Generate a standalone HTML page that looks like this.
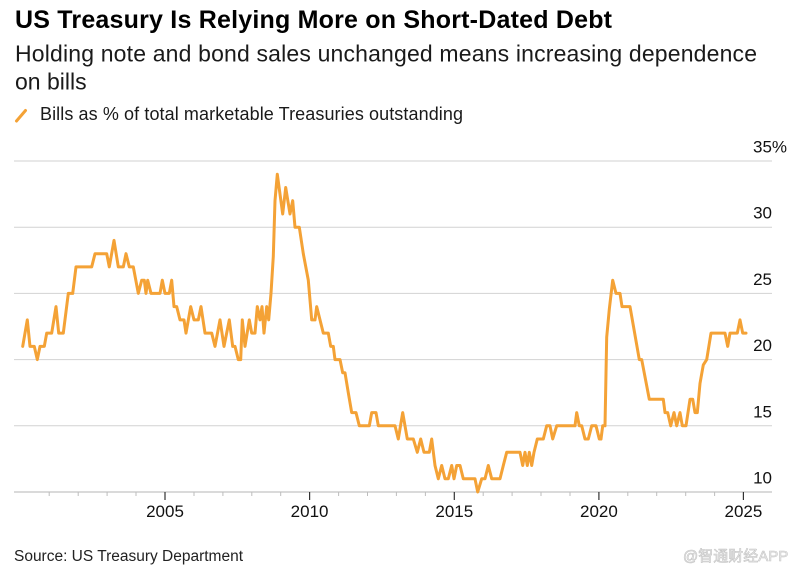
<!DOCTYPE html>
<html>
<head>
<meta charset="utf-8">
<style>
  html, body { margin: 0; padding: 0; background: #fff; }
  body { width: 800px; height: 573px; overflow: hidden; }
  svg { display: block; }
  text { font-family: "Liberation Sans", Arial, sans-serif; }
</style>
</head>
<body>
<svg width="800" height="573" viewBox="0 0 800 573" xmlns="http://www.w3.org/2000/svg">
  <rect x="0" y="0" width="800" height="573" fill="#fff"/>

  <!-- Title -->
  <text x="15" y="28" font-size="25" font-weight="bold" fill="#000" textLength="597">US Treasury Is Relying More on Short-Dated Debt</text>
  <!-- Subtitle -->
  <text x="15" y="61.5" font-size="23" fill="#1a1a1a" textLength="742">Holding note and bond sales unchanged means increasing dependence</text>
  <text x="15" y="89.5" font-size="23" fill="#1a1a1a">on bills</text>

  <!-- Legend -->
  <line x1="16.5" y1="121" x2="25.5" y2="110.5" stroke="#f4a236" stroke-width="3" stroke-linecap="round"/>
  <text x="40" y="120" font-size="18" fill="#1a1a1a" textLength="423">Bills as % of total marketable Treasuries outstanding</text>

  <!-- Gridlines -->
  <g stroke="#d2d2d2" stroke-width="1">
    <line x1="14" y1="161" x2="772" y2="161"/>
    <line x1="14" y1="227.2" x2="772" y2="227.2"/>
    <line x1="14" y1="293.4" x2="772" y2="293.4"/>
    <line x1="14" y1="359.6" x2="772" y2="359.6"/>
    <line x1="14" y1="425.8" x2="772" y2="425.8"/>
  </g>
  <line x1="14" y1="492" x2="772" y2="492" stroke="#c4c4c4" stroke-width="1.2"/>

  <!-- Y labels -->
  <g font-size="17" fill="#111">
    <text x="753" y="152.5">35%</text>
    <text x="772" y="218.7" text-anchor="end">30</text>
    <text x="772" y="284.9" text-anchor="end">25</text>
    <text x="772" y="351.1" text-anchor="end">20</text>
    <text x="772" y="417.3" text-anchor="end">15</text>
    <text x="772" y="483.5" text-anchor="end">10</text>
  </g>

  <!-- Minor ticks -->
  <g stroke="#bdbdbd" stroke-width="1">
    <line x1="49.2" y1="492" x2="49.2" y2="496"/>
    <line x1="78.2" y1="492" x2="78.2" y2="496"/>
    <line x1="107.1" y1="492" x2="107.1" y2="496"/>
    <line x1="136" y1="492" x2="136" y2="496"/>
    <line x1="194" y1="492" x2="194" y2="496"/>
    <line x1="222.9" y1="492" x2="222.9" y2="496"/>
    <line x1="251.8" y1="492" x2="251.8" y2="496"/>
    <line x1="280.7" y1="492" x2="280.7" y2="496"/>
    <line x1="338.6" y1="492" x2="338.6" y2="496"/>
    <line x1="367.5" y1="492" x2="367.5" y2="496"/>
    <line x1="396.4" y1="492" x2="396.4" y2="496"/>
    <line x1="425.4" y1="492" x2="425.4" y2="496"/>
    <line x1="483.2" y1="492" x2="483.2" y2="496"/>
    <line x1="512.1" y1="492" x2="512.1" y2="496"/>
    <line x1="541" y1="492" x2="541" y2="496"/>
    <line x1="570" y1="492" x2="570" y2="496"/>
    <line x1="627.8" y1="492" x2="627.8" y2="496"/>
    <line x1="656.7" y1="492" x2="656.7" y2="496"/>
    <line x1="685.7" y1="492" x2="685.7" y2="496"/>
    <line x1="714.6" y1="492" x2="714.6" y2="496"/>
  </g>
  <!-- Major ticks -->
  <g stroke="#333" stroke-width="1.2">
    <line x1="165" y1="492" x2="165" y2="500"/>
    <line x1="309.6" y1="492" x2="309.6" y2="500"/>
    <line x1="454.3" y1="492" x2="454.3" y2="500"/>
    <line x1="598.9" y1="492" x2="598.9" y2="500"/>
    <line x1="743.4" y1="492" x2="743.4" y2="500"/>
  </g>

  <!-- X labels -->
  <g font-size="17" fill="#111" text-anchor="middle">
    <text x="165" y="517">2005</text>
    <text x="309.6" y="517">2010</text>
    <text x="454.3" y="517">2015</text>
    <text x="598.9" y="517">2020</text>
    <text x="743.4" y="517">2025</text>
  </g>

  <!-- Series -->
  <polyline fill="none" stroke="#f4a236" stroke-width="3" stroke-linejoin="round" stroke-linecap="round"
    points="22.7,346.4 27.3,319.9 30,346.4 34.3,346.4 37.3,359.6 40,346.4 44.3,346.4 46.7,333.1 51.7,333.1 56,306.6 58.7,333.1 63.3,333.1 68.3,293.4 72.7,293.4 76,266.9 91.7,266.9 95,253.7 106.7,253.7 109.3,266.9 114,240.4 118.3,266.9 123.3,266.9 126,253.7 129.3,266.9 133.3,266.9 138.3,293.4 141.7,280.2 144.3,280.2 146,293.4 147.7,280.2 151,293.4 160,293.4 162.3,280.2 165,293.4 169.3,293.4 171.7,280.2 174,306.6 176.7,306.6 180,319.9 184,319.9 186,333.1 190.7,306.6 194,319.9 198.3,319.9 201,306.6 205,333.1 211.7,333.1 215,346.4 220,319.9 224,346.4 229.3,319.9 232.7,346.4 235,346.4 238.3,359.6 240.7,359.6 242.3,319.9 245,346.4 249.3,319.9 251.7,333.1 255,333.1 257.3,306.6 260,319.9 262,306.6 264,333.1 266.7,306.6 268.7,319.9 271,293.4 273.3,256.3 275,200.7 277.3,174.2 282.7,214 285.7,187.5 290,214 292.7,200.7 295,227.2 299.3,227.2 303.3,253.7 308.3,280.2 311.7,319.9 315,319.9 316.7,306.6 320,319.9 323.3,333.1 328.3,333.1 330.7,346.4 333.3,346.4 335,359.6 340,359.6 342.7,372.8 345,372.8 348.3,392.7 351.7,412.6 356,412.6 359.3,425.8 369.3,425.8 371.7,412.6 376,412.6 378.3,425.8 395,425.8 398.3,439 402.7,412.6 407.3,439 413.3,439 417.3,452.3 420.7,439 424,452.3 429.3,452.3 431.7,439 435,465.5 438.3,478.8 441.7,465.5 445,478.8 448.3,478.8 451.7,465.5 454,478.8 456.7,465.5 460,465.5 463.3,478.8 475,478.8 477.7,492 481.7,478.8 485,478.8 488.3,465.5 491.7,478.8 500,478.8 503.3,465.5 506.7,452.3 520,452.3 522.7,465.5 525,452.3 527.3,465.5 529.3,452.3 531.7,465.5 534,452.3 537.3,439 543.3,439 546.7,425.8 550,425.8 552.7,439 556.7,425.8 575,425.8 576.7,412.6 579.3,425.8 581.7,425.8 585,439 588.3,439 591.7,425.8 596,425.8 599.3,439 601,439 602.7,425.8 605,425.8 606.7,337.1 609.3,309.3 612.7,280.2 616,293.4 620,293.4 622,306.6 630,306.6 639.3,359.6 641.7,359.6 649.3,399.3 663.3,399.3 665,412.6 667.7,412.6 670.7,425.8 674,412.6 676.7,425.8 680,412.6 682.3,425.8 686,425.8 690,399.3 692.7,399.3 695,412.6 697.3,412.6 700,383.4 703.3,364.9 706.7,359.6 711,333.1 725,333.1 727.7,346.4 730,333.1 737.3,333.1 740,319.9 742.7,333.1 746,333.1"/>

  <!-- Source -->
  <text x="14" y="561" font-size="15.5" fill="#222" textLength="229">Source: US Treasury Department</text>

  <!-- Watermark -->
  <text x="683" y="561" font-size="15" fill="#eeeeee" stroke="#c4c4c4" stroke-width="0.6" font-family="'Liberation Sans','Noto Sans CJK SC',sans-serif">@智通财经APP</text>
</svg>
</body>
</html>
